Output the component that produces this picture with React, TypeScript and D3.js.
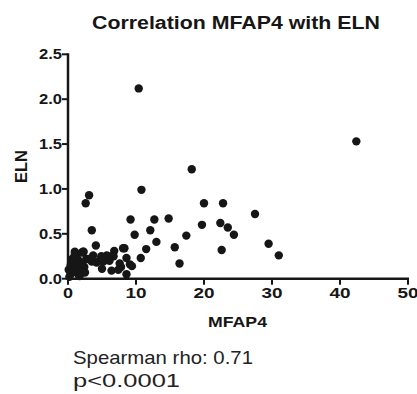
import React from "react";
import * as d3 from "d3";

const xTicks = [0, 10, 20, 30, 40, 50];
const yTicks = [0.0, 0.5, 1.0, 1.5, 2.0, 2.5];

const mfap4 = [
  10.4, 18.2, 10.8, 3.1, 2.6, 20.0, 22.8, 9.2, 12.7, 14.8, 19.7, 22.4, 23.5, 24.4,
  3.5, 9.8, 12.1, 17.4, 13.0, 15.7, 11.5, 22.6, 16.4, 4.1, 10.7, 8.3, 6.8, 8.6,
  9.4, 8.6, 6.4, 6.1, 6.4, 7.8, 4.9, 4.6, 5.0, 4.2, 3.5, 2.2, 1.2, 0.8, 1.4, 2.5,
  0.5, 2.4, 42.4, 27.5, 29.5, 31.0, 2.0, 1.0, 3.7, 3.0, 6.7, 7.6, 8.1, 0.2, 0.3,
  0.4, 0.6, 0.7, 0.9, 1.1, 1.3, 1.5, 1.6, 1.8, 2.1, 2.3, 2.7, 0.1, 0.5, 1.7,
  5.7, 7.4, 9.1, 5.2, 1.0, 2.3
];
const eln = [
  2.12, 1.22, 0.99, 0.93, 0.84, 0.84, 0.84, 0.66, 0.66, 0.67, 0.60, 0.62, 0.57, 0.49,
  0.54, 0.49, 0.54, 0.48, 0.41, 0.35, 0.33, 0.32, 0.17, 0.37, 0.23, 0.34, 0.31, 0.23,
  0.14, 0.05, 0.25, 0.20, 0.09, 0.13, 0.25, 0.20, 0.11, 0.18, 0.19, 0.30, 0.25, 0.21,
  0.13, 0.07, 0.06, 0.13, 1.53, 0.72, 0.39, 0.26, 0.29, 0.27, 0.26, 0.22, 0.25, 0.17,
  0.34, 0.02, 0.08, 0.15, 0.22, 0.12, 0.18, 0.09, 0.16, 0.05, 0.20, 0.11, 0.17, 0.07,
  0.22, 0.10, 0.16, 0.03, 0.26, 0.10, 0.16, 0.19, 0.30, 0.30
];

const title = "Correlation MFAP4 with ELN";
const xLabel = "MFAP4";
const yLabel = "ELN";
const statLines = ["Spearman rho: 0.71", "p<0.0001"];

export default function App() {
  const W = 417, H = 394;
  const x = d3.scaleLinear().domain([0, 50]).range([68, 408]);
  const y = d3.scaleLinear().domain([0, 2.5]).range([278.7, 54.3]);
  const font = "Liberation Sans, Arial, sans-serif";
  const pts = mfap4.map((v, i) => ({ x: v, y: eln[i] }));
  const ink = "#161616";
  return (
    <svg width={W} height={H} style={{ position: "absolute", left: 0, top: 0, background: "#fff" }} fontFamily={font}>
      <text x={92} y={28.5} fontSize={18} fontWeight="bold" fill={ink} textLength={288} lengthAdjust="spacingAndGlyphs">{title}</text>
      {/* y axis */}
      <line x1={68} x2={68} y1={y(2.5) - 1} y2={y(0) + 1} stroke={ink} strokeWidth={2.5} />
      {yTicks.map((t) => (
        <g key={"y" + t}>
          <line x1={62} x2={68} y1={y(t)} y2={y(t)} stroke={ink} strokeWidth={2} />
          <text x={39} y={y(t) + 5} fontSize={14} fontWeight="bold" fill={ink} textLength={23} lengthAdjust="spacingAndGlyphs">{t.toFixed(1)}</text>
        </g>
      ))}
      {/* x axis */}
      <line x1={67} x2={x(50) + 1} y1={y(0)} y2={y(0)} stroke={ink} strokeWidth={2.5} />
      {xTicks.map((t) => {
        const s = String(t);
        const w = s.length === 1 ? 10 : 21;
        return (
          <g key={"x" + t}>
            <line x1={x(t)} x2={x(t)} y1={y(0)} y2={y(0) + 6} stroke={ink} strokeWidth={2} />
            <text x={x(t) - w / 2} y={297.5} fontSize={15} fontWeight="bold" fill={ink} textLength={w} lengthAdjust="spacingAndGlyphs">{s}</text>
          </g>
        );
      })}
      <text x={208} y={327} fontSize={15} fontWeight="bold" fill={ink} textLength={59} lengthAdjust="spacingAndGlyphs">{xLabel}</text>
      <text transform={`translate(27,${(y(0) + y(2.5)) / 2}) rotate(-90)`} x={-16.5} fontSize={16} fontWeight="bold" fill={ink} textLength={33} lengthAdjust="spacingAndGlyphs">{yLabel}</text>
      {pts.map((p, i) => (
        <circle key={i} cx={x(p.x)} cy={y(p.y)} r={4.2} fill={ink} />
      ))}
      <text x={73} y={364} fontSize={19} fill="#222" textLength={180} lengthAdjust="spacingAndGlyphs">{statLines[0]}</text>
      <text x={73} y={387} fontSize={19} fill="#222" textLength={107} lengthAdjust="spacingAndGlyphs">{statLines[1]}</text>
    </svg>
  );
}
